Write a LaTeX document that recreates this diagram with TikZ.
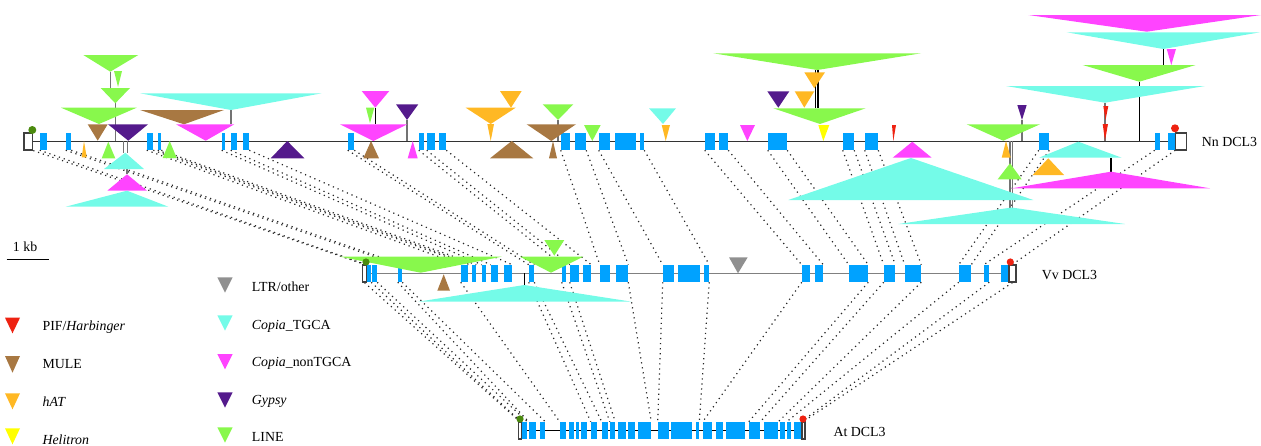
\documentclass[tikz,border=0pt]{standalone}
\usepackage{fontspec}
\setmainfont{Liberation Serif}
\usetikzlibrary{backgrounds}

\definecolor{exonblue}{RGB}{0,162,255}
\definecolor{cLINE}{RGB}{136,248,76}
\definecolor{cTGCA}{RGB}{116,251,232}
\definecolor{cNon}{RGB}{255,68,255}
\definecolor{cGypsy}{RGB}{84,26,140}
\definecolor{cMULE}{RGB}{168,120,66}
\definecolor{chAT}{RGB}{255,184,36}
\definecolor{cHeli}{RGB}{255,255,0}
\definecolor{cPIF}{RGB}{238,34,17}
\definecolor{cLTR}{RGB}{144,144,144}
\definecolor{dotgreen}{RGB}{75,138,14}

% insertion triangle: style, left x, right x, base y, apex x, apex y
\newcommand{\teins}[6]{\fill[#1] (#2,#4) -- (#3,#4) -- (#5,#6) -- cycle;}

\tikzset{
  exon/.style={rectangle, fill=exonblue, inner sep=0pt, minimum height=12.75pt},
  utr/.style={rectangle, draw=black!75, fill=white, line width=0.9pt, inner sep=0pt, minimum height=12.75pt},
  aln/.style={line width=0.9pt, dash pattern=on 0.9pt off 2.9pt, black!85},
  tstem/.style={draw=black!55, line width=1.1pt},
  bstem/.style={draw=black, line width=0.9pt},
  fLINE/.style={fill=cLINE}, fTGCA/.style={fill=cTGCA}, fNon/.style={fill=cNon},
  fGypsy/.style={fill=cGypsy}, fMULE/.style={fill=cMULE}, fhAT/.style={fill=chAT},
  fHeli/.style={fill=cHeli}, fPIF/.style={fill=cPIF}, fLTR/.style={fill=cLTR},
  lab/.style={anchor=base west, inner sep=0pt},
}

\begin{document}
\begin{tikzpicture}[x=0.75pt, y=-0.75pt, font=\fontsize{10.4}{12}\selectfont]
\useasboundingbox (0,0) rectangle (1261,446);

% ---- exons of the three genes ----
\foreach \l/\r [count=\i] in {40/47,66/71,147/153,158/161,222/225,231/237,243/249,348/354,419/424,427/435,439/446,561/570,575/586,599/610,615/636,640/644,705/715,719/728,768/787,843/854,865/878,1039/1049,1155/1160,1168/1175}
  \node[exon, minimum width={(\r-\l)*0.75pt}] (n\i) at ({(\l+\r)/2},141.5) {};
\foreach \l/\r [count=\i] in {367/371,372/377,398/402,461/468,472/476,482/486,491/498,504/512,529/534,562/566,570/579,583/591,600/610,616/628,663/674,678/700,704/709,802/810,815/823,849/868,884/895,905/921,959/971,984/989,1001/1009}
  \node[exon, minimum width={(\r-\l)*0.75pt}] (v\i) at ({(\l+\r)/2},273.5) {};
\foreach \l/\r [count=\i] in {521/527,529/536,540/545,560/566,569/574,576/579,581/587,591/597,602/608,610/615,618/626,628/635,638/651,658/669,671/692,696/699,703/712,716/723,726/745,749/760,764/778,780/785,787/791,794/801}
  \node[exon, minimum width={(\r-\l)*0.75pt}] (a\i) at ({(\l+\r)/2},430.5) {};

% ---- end boxes ----
\node[utr, minimum width=6.5pt] (nS) at (28.3,141.5) {};
\node[utr, minimum width=8.6pt] (nE) at (1181,141.5) {};
\node[utr, minimum width=3.3pt] (vS) at (364.5,273.5) {};
\node[utr, minimum width=5.2pt] (vE) at (1012.5,273.5) {};
\node[utr, minimum width=2.1pt] (aS) at (519.7,430.5) {};
\node[utr, minimum width=2.3pt] (aE) at (803.5,430.5) {};

% ---- alignments and backbone lines ----
\begin{pgfonlayer}{background}
  \foreach \p/\q in {nS.south east/vS.north, n1.south west/v1.north west,
      n2.south west/v3.north west, n2.south east/v3.north east,
      n3.south west/v4.north west, n3.south east/v4.north east,
      n4.south west/v5.north west, n4.south east/v5.north east,
      n5.south west/v6.north west, n6.south west/v7.north west,
      n7.south east/v8.north east, n8.south west/v9.north west,
      n8.south east/v9.north east, n9.south west/v10.north west,
      n10.south west/v11.north west, n11.south east/v12.north east,
      n12.south west/v13.north west, n13.south east/v14.north east,
      n14.south west/v15.north west, n16.south east/v17.north east,
      n17.south west/v18.north west, n18.south east/v19.north east,
      n19.south west/v20.north west, n19.south east/v20.north east,
      n20.south west/v21.north west, n20.south east/v21.north east,
      n21.south west/v22.north west, n21.south east/v22.north east,
      n22.south west/v23.north west, n22.south east/v23.north east,
      n23.south west/v24.north west, n24.south east/vE.north}
    \draw[aln] (\p) -- (\q);
  \foreach \p/\q in {vS.south/aS.north, v1.south east/a1.north west,
      v2.south east/a1.north east, v3.south west/a2.north west,
      v3.south east/a3.north east, v4.south west/a4.north west,
      v9.south west/a8.north west, v9.south east/a9.north west,
      v10.south west/a10.north west, v11.south west/a10.north east,
      v14.south east/a13.north east, v15.south west/a14.north west,
      v17.south east/a16.north east, v18.south west/a17.north west,
      v20.south east/a20.north west, v21.south west/a20.north east,
      v22.south east/a21.north east, v23.south west/a23.north west,
      v24.south east/a24.north east, vE.south/aE.north}
    \draw[aln] (\p) -- (\q);
  \draw[draw=black!80, line width=1.1pt] (nS.center) -- (nE.center);
  \draw[draw=black!50, line width=1.2pt] (vS.center) -- (vE.center);
  \draw[draw=black, line width=0.9pt] (aS.center) -- (aE.center);
\end{pgfonlayer}

% ---- stems of nested insertions ----
\draw[tstem] (110.3,71.7) -- (110.3,88);
\draw[tstem] (115.3,103.3) -- (115.3,141);
\draw[tstem] (231,110) -- (231,124.3);
\draw[bstem] (375.3,107.7) -- (375.3,124.3);
\draw[tstem] (407,120) -- (407,141);
\draw[tstem] (558,120) -- (558,141);
\draw[bstem] (815.3,70) -- (815.3,108.3);
\draw[bstem] (818,70) -- (818,108.3);
\draw[tstem] (1022,120) -- (1022,141);
\draw[bstem] (1163.3,49) -- (1163.3,65);
\draw[bstem] (1139.3,81.7) -- (1139.3,141);
\draw[tstem] (1105,102.7) -- (1105,141);
\draw[tstem] (123.3,141) -- (123.3,153);
\draw[tstem] (127.3,141) -- (127.3,153);
\draw[tstem] (127,169) -- (127,174.3);
\draw[tstem] (1010,141) -- (1010,207.5);
\draw[tstem] (1012.7,141) -- (1012.7,207.5);
\draw[bstem] (1111,157.7) -- (1111,171.7);
\draw[bstem] (524.3,273) -- (524.3,285);

% ---- insertions above the Nn gene ----
\teins{fLINE}{83.3}{138.3}{55}{110.3}{71.7}
\teins{fLINE}{114}{122}{71}{118}{87}
\teins{fLINE}{100.7}{130}{88}{115.3}{103.3}
\teins{fLINE}{61}{136.7}{107.7}{99}{124}
\teins{fMULE}{87.7}{107.7}{124.3}{97.7}{140.7}
\teins{fGypsy}{108}{148}{124.3}{128.3}{140.7}
\teins{fTGCA}{140}{321.7}{93.3}{231}{110}
\teins{fMULE}{140}{224}{110}{184}{124.3}
\teins{fNon}{176}{234.3}{124.3}{205.7}{140.7}
\teins{fNon}{361.7}{389.3}{91}{375.3}{107.7}
\teins{fLINE}{366}{374.3}{107.7}{370}{123.3}
\teins{fNon}{340}{407.3}{124.3}{373.3}{141}
\teins{fGypsy}{396}{418.3}{104.3}{407}{120}
\teins{fhAT}{500}{521.7}{91}{511}{107.7}
\teins{fhAT}{465.7}{515.7}{107.7}{490.7}{124}
\teins{fhAT}{487.3}{494}{124}{490.7}{141}
\teins{fLINE}{542.7}{573.3}{104.3}{558}{120}
\teins{fMULE}{526.7}{576}{124.3}{551.3}{141}
\teins{fLINE}{584}{600.7}{125}{592.3}{141}
\teins{fTGCA}{649}{676}{108.3}{663}{124}
\teins{fhAT}{661.7}{670}{125}{665.7}{141}
\teins{fNon}{740}{755}{125}{747.3}{141}
\teins{fLINE}{713.3}{921}{53.3}{817.3}{70}
\teins{fhAT}{804.3}{825}{72.3}{814.3}{88.3}
\teins{fGypsy}{767.3}{789.3}{91.3}{778.3}{107.7}
\teins{fhAT}{794.7}{814.3}{91.3}{804.3}{107.7}
\teins{fLINE}{773.3}{865.7}{108.3}{820}{124}
\teins{fHeli}{818.3}{829.3}{125}{823.3}{141}
\teins{fPIF}{892}{896}{125}{893.3}{141}
\teins{fLINE}{966.7}{1040}{124.3}{1003.3}{140.7}
\teins{fGypsy}{1017.3}{1026.7}{105}{1022}{120}
\teins{fNon}{1028.3}{1261}{15}{1146.7}{31.7}
\teins{fTGCA}{1066.7}{1260}{32.3}{1163.3}{49}
\teins{fNon}{1166.7}{1176}{49}{1171.3}{65}
\teins{fLINE}{1082.7}{1195.7}{65}{1139.3}{81.7}
\teins{fTGCA}{1006}{1205}{86}{1105}{102.7}
\teins{fPIF}{1103.3}{1108.3}{106}{1105.5}{120}
\teins{fPIF}{1102.7}{1108}{124}{1105}{140.7}

% ---- insertions below the Nn gene ----
\teins{fhAT}{81.7}{86.7}{157.3}{84}{141}
\teins{fLINE}{101.7}{115.3}{158.3}{108.3}{141.7}
\teins{fTGCA}{104}{144}{169}{125.3}{152.7}
\teins{fNon}{107.3}{147}{190.7}{127}{174.3}
\teins{fTGCA}{65.7}{168.3}{206.7}{127}{190.7}
\teins{fLINE}{162.7}{176.7}{158}{169.7}{141}
\teins{fGypsy}{270.7}{304.3}{158.3}{287.3}{141}
\teins{fMULE}{363.3}{379}{158.3}{371}{141}
\teins{fNon}{407.7}{417.7}{158.3}{412.7}{141}
\teins{fMULE}{490}{533.3}{158.3}{511.7}{141}
\teins{fMULE}{549}{557}{158.3}{553}{141}
\teins{fNon}{892.7}{931.7}{157.7}{912.3}{141.7}
\teins{fTGCA}{788.3}{1033.3}{200}{911}{158}
\teins{fhAT}{1001.7}{1010.7}{157.7}{1006}{141}
\teins{fLINE}{997.7}{1021.7}{179.3}{1010}{163.3}
\teins{fTGCA}{898.3}{1125}{224}{1011.7}{207.5}
\teins{fTGCA}{1039}{1121.7}{157.7}{1078.3}{141.7}
\teins{fNon}{1011.7}{1210}{188.3}{1111}{171.7}
\teins{fhAT}{1032.7}{1064}{175}{1048.3}{158.3}

% ---- insertions in the Vv gene ----
\teins{fLINE}{340}{501.7}{256.7}{420.7}{272.7}
\teins{fLINE}{520}{583.3}{256.7}{551}{272.7}
\teins{fLINE}{544.3}{564.3}{240}{554.3}{255.7}
\teins{fLTR}{729}{747.7}{257.3}{738}{273.3}
\teins{fMULE}{437.3}{450}{290.7}{443.7}{274.3}
\teins{fTGCA}{418}{631.7}{301.7}{524.3}{285}

% ---- start and stop codon marks ----
\fill[dotgreen] (32.3,130) circle[radius=4];
\fill[cPIF] (1175,128.3) circle[radius=4];
\fill[dotgreen] (366,262) circle[radius=3.6];
\fill[cPIF] (1010.3,262) circle[radius=3.6];
\fill[dotgreen] (520,419) circle[radius=3.6];
\fill[cPIF] (803,419) circle[radius=3.6];

% ---- gene names ----
\node[lab] (nnname) at (1201.7,146) {Nn DCL3};
\node[lab] (vvname) at (1041.7,279.3) {Vv DCL3};
\node[lab] (atname) at (833.3,436.5) {At DCL3};

% ---- scale bar ----
\node[lab] (kb) at (12.7,251.7) {1 kb};
\draw[line width=0.8pt] (6.7,259.3) -- (49,259.3);

% ---- legend ----
\teins{fPIF}{5}{20}{317.7}{12.5}{333.3}
\teins{fMULE}{5}{20}{356}{12.5}{372.7}
\teins{fhAT}{5}{20}{393.3}{12.5}{409.3}
\teins{fHeli}{5}{20}{428.3}{12.5}{444.3}
\teins{fLTR}{217.3}{232.7}{277.3}{225}{292.7}
\teins{fTGCA}{217.3}{232.7}{315.3}{225}{330.7}
\teins{fNon}{217.3}{232.7}{354}{225}{369.3}
\teins{fGypsy}{217.3}{232.7}{392.3}{225}{407.7}
\teins{fLINE}{217.3}{232.7}{427.3}{225}{442.7}
\node[lab] (lgPIF) at (42.3,330) {PIF/\textit{Harbinger}};
\node[lab] (lgMULE) at (42.3,368.3) {MULE};
\node[lab] (lghAT) at (42.3,406) {\textit{hAT}};
\node[lab] (lgHeli) at (42.3,444.3) {\textit{Helitron}};
\node[lab] (lgLTR) at (251.7,291.7) {LTR/other};
\node[lab] (lgTGCA) at (251.7,329) {\textit{Copia}\_TGCA};
\node[lab] (lgNon) at (251.7,366.7) {\textit{Copia}\_nonTGCA};
\node[lab] (lgGypsy) at (251.7,404) {\textit{Gypsy}};
\node[lab] (lgLINE) at (251.7,441.7) {LINE};
\end{tikzpicture}
\end{document}
